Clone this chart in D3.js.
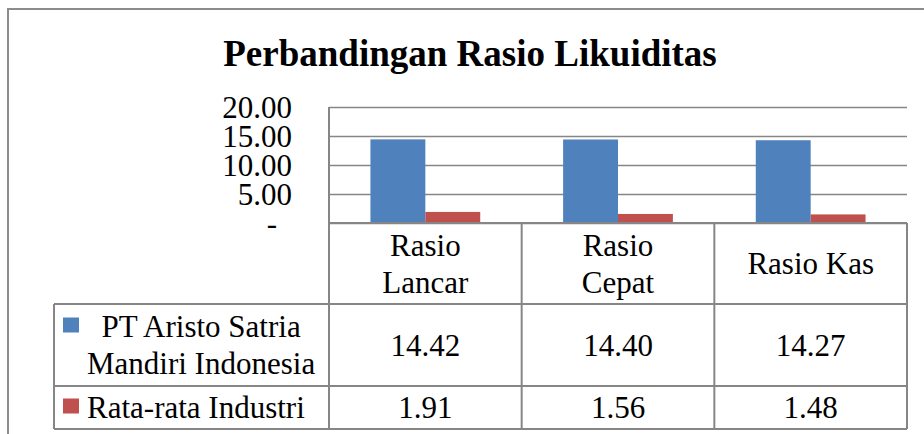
<!DOCTYPE html>
<meta charset="UTF-8">
<style>
body { margin: 0; background: #fff; }
svg text { font-family: "Liberation Serif", Tinos, "Times New Roman", Times, "DejaVu Serif", serif !important; fill: #000; }
.grid line { stroke: #868686; stroke-width: 1.5px; }
.tbl { stroke: #868686; stroke-width: 2px; }
</style>
<body>
<script src="https://d3js.org/d3.v7.min.js"></script>
<script>
// chart data
var categories = ["Rasio Lancar", "Rasio Cepat", "Rasio Kas"];
var seriesNames = ["PT Aristo Satria Mandiri Indonesia", "Rata-rata Industri"];
var aristo = [14.42, 14.40, 14.27];
var industri = [1.91, 1.56, 1.48];
var yTicks = [0, 5, 10, 15, 20];
var colors = ["#4F81BD", "#C0504D"];
var title = "Perbandingan Rasio Likuiditas";

var series = [aristo, industri];

var W = 924, H = 434;
var plot = {left: 329, right: 907, top: 107, bottom: 223};
var tableLeft = 54;
var rows = [223, 304, 386, 429];
var serif = "'Liberation Serif', Tinos, 'Times New Roman', Times, 'DejaVu Serif', serif";

var svg = d3.select("body").append("svg")
    .attr("width", W)
    .attr("height", H)
    .attr("font-family", serif);

// outer chart frame
svg.append("rect")
    .attr("x", 8).attr("y", 9)
    .attr("width", W + 20).attr("height", H + 20)
    .attr("fill", "none")
    .attr("stroke", "#8c8c8c")
    .attr("stroke-width", 2);

svg.append("text")
    .attr("x", 470).attr("y", 66)
    .attr("text-anchor", "middle")
    .style("font-size", "37px")
    .style("font-weight", "bold")
    .text(title);

var y = d3.scaleLinear().domain([0, 20]).range([plot.bottom, plot.top]);
var x0 = d3.scaleBand().domain(categories).range([plot.left, plot.right]).padding(0);
var x1 = d3.scaleBand().domain(d3.range(series.length))
    .range([0, x0.bandwidth()]).paddingInner(0).paddingOuter(0.755);

// gridlines
var grid = svg.append("g").attr("class", "grid")
    .attr("transform", "translate(" + plot.left + ",0)")
    .call(d3.axisLeft(y).tickValues(yTicks).tickSize(-(plot.right - plot.left)).tickFormat(""));
grid.select(".domain").remove();

// y labels
var yAxis = svg.append("g")
    .attr("transform", "translate(" + plot.left + ",0)")
    .call(d3.axisLeft(y).tickValues(yTicks).tickSize(0).tickPadding(37)
        .tickFormat(function(d) { return d === 0 ? "-" : d3.format(".2f")(d); }));
yAxis.attr("font-family", serif).attr("font-size", null);
yAxis.select(".domain").remove();
yAxis.selectAll("text")
    .style("font-size", "31px")
    .attr("dy", "0.34em")
    .attr("dx", function(d) { return d === 0 ? -15 : 0; });

// bars
series.forEach(function(vals, si) {
  svg.append("g").selectAll("rect")
    .data(vals)
    .join("rect")
      .attr("x", function(d, i) { return x0(categories[i]) + x1(si); })
      .attr("y", function(d) { return y(d); })
      .attr("width", x1.bandwidth())
      .attr("height", function(d) { return y(0) - y(d); })
      .attr("fill", colors[si]);
});

// data table lines
var t = svg.append("g");
function hline(xa, xb, yy) {
  t.append("line").attr("class", "tbl").attr("x1", xa).attr("x2", xb).attr("y1", yy).attr("y2", yy);
}
function vline(xx, ya, yb) {
  t.append("line").attr("class", "tbl").attr("x1", xx).attr("x2", xx).attr("y1", ya).attr("y2", yb);
}
vline(plot.left, plot.top, rows[3]);
hline(plot.left, plot.right, rows[0]);
hline(tableLeft, plot.right, rows[1]);
hline(tableLeft, plot.right, rows[2]);
hline(tableLeft, plot.right, rows[3]);
vline(tableLeft, rows[1], rows[3]);
categories.forEach(function(c) {
  vline(x0(c) + x0.bandwidth(), rows[0], rows[3]);
});

var lineH = 37;
// wrap words into lines that fit maxW
function wrapLines(str, maxW, size) {
  var probe = svg.append("text").style("font-size", size + "px");
  var words = str.split(" "), lines = [], cur = "";
  words.forEach(function(w) {
    var test = cur ? cur + " " + w : w;
    probe.text(test);
    if (probe.node().getComputedTextLength() > maxW && cur) {
      lines.push(cur);
      cur = w;
    } else {
      cur = test;
    }
  });
  lines.push(cur);
  probe.remove();
  return lines;
}

function multiText(cx, cyMid, lines) {
  var txt = svg.append("text")
      .attr("text-anchor", "middle")
      .style("font-size", "31px");
  var startY = cyMid - (lines.length - 1) * lineH / 2 + 10.5;
  lines.forEach(function(l, i) {
    txt.append("tspan").attr("x", cx).attr("y", startY + i * lineH).text(l);
  });
  return txt;
}

// header row
categories.forEach(function(c) {
  multiText(x0(c) + x0.bandwidth() / 2, (rows[0] + rows[1]) / 2, wrapLines(c, 150, 31));
});

// value rows
series.forEach(function(vals, si) {
  var mid = (rows[si + 1] + rows[si + 2]) / 2;
  vals.forEach(function(v, i) {
    multiText(x0(categories[i]) + x0.bandwidth() / 2, mid, [d3.format(".2f")(v)]);
  });
  // legend cell
  var lines = wrapLines(seriesNames[si], 240, 31);
  var keyX = 63, textX = 87;
  var firstMid = mid - (lines.length - 1) * lineH / 2;
  svg.append("rect")
      .attr("x", keyX).attr("y", firstMid - 9)
      .attr("width", 16).attr("height", 15)
      .attr("fill", colors[si]);
  var txt = multiText(0, mid, lines);
  var maxW = 0;
  txt.selectAll("tspan").each(function() {
    maxW = Math.max(maxW, this.getComputedTextLength());
  });
  txt.selectAll("tspan").attr("x", textX + maxW / 2);
});
</script>
</body>
